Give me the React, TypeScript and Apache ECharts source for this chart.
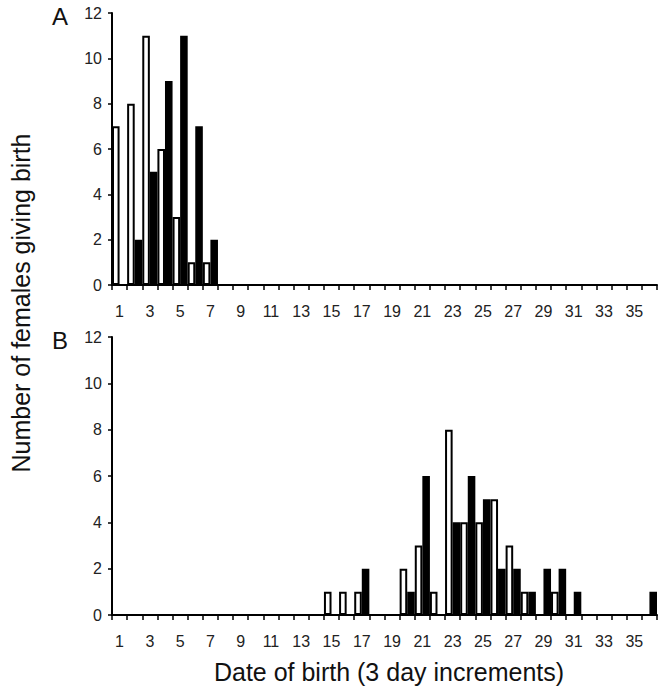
import React, { useEffect, useRef } from 'react';
import * as echarts from 'echarts';

// Date-of-birth bins (3 day increments)
const categories = [
  '1', '2', '3', '4', '5', '6', '7', '8', '9', '10', '11', '12',
  '13', '14', '15', '16', '17', '18', '19', '20', '21', '22', '23', '24',
  '25', '26', '27', '28', '29', '30', '31', '32', '33', '34', '35', '36',
];

// Panel A
const panelAOpen = [7, 8, 11, 6, 3, 1, 1, 0, 0, 0, 0, 0, 0, 0, 0, 0, 0, 0, 0, 0, 0, 0, 0, 0, 0, 0, 0, 0, 0, 0, 0, 0, 0, 0, 0, 0];
const panelAFilled = [0, 2, 5, 9, 11, 7, 2, 0, 0, 0, 0, 0, 0, 0, 0, 0, 0, 0, 0, 0, 0, 0, 0, 0, 0, 0, 0, 0, 0, 0, 0, 0, 0, 0, 0, 0];

// Panel B
const panelBOpen = [0, 0, 0, 0, 0, 0, 0, 0, 0, 0, 0, 0, 0, 0, 1, 1, 1, 0, 0, 2, 3, 1, 8, 4, 4, 5, 3, 1, 0, 1, 0, 0, 0, 0, 0, 0];
const panelBFilled = [0, 0, 0, 0, 0, 0, 0, 0, 0, 0, 0, 0, 0, 0, 0, 0, 2, 0, 0, 1, 6, 0, 4, 6, 5, 2, 2, 1, 2, 2, 1, 0, 0, 0, 0, 1];

const yMin = 0;
const yMax = 12;
const yStep = 2;

const panelLabels = ['A', 'B'];
const xTitle = 'Date of birth (3 day increments)';
const yTitle = 'Number of females giving birth';

const FONT = '"Liberation Sans", Arial, Helvetica, sans-serif';

export default function App() {
  const ref = useRef<HTMLDivElement>(null);

  useEffect(() => {
    if (!ref.current) return;
    const chart = echarts.init(ref.current, undefined, { renderer: 'svg' });

    const grids = [
      { left: 112, right: 7, top: 13, height: 272 },
      { left: 112, right: 7, top: 337, height: 278 },
    ];

    const xAxis = grids.map((_, i) => ({
      type: 'category',
      gridIndex: i,
      data: categories,
      boundaryGap: true,
      axisLine: { show: true, lineStyle: { color: '#000', width: 2 } },
      axisTick: { show: true, interval: 0, length: 5, lineStyle: { color: '#000', width: 1.5 } },
      axisLabel: { interval: 1, margin: 18, fontSize: 16, color: '#222', fontFamily: FONT },
      splitLine: { show: false },
    }));

    const yAxis = grids.map((_, i) => ({
      type: 'value',
      gridIndex: i,
      min: yMin,
      max: yMax,
      interval: yStep,
      axisLine: { show: true, lineStyle: { color: '#000', width: 2 } },
      axisTick: { show: true, length: 4, lineStyle: { color: '#000', width: 1.5 } },
      axisLabel: { margin: 10, fontSize: 16, color: '#222', fontFamily: FONT },
      splitLine: { show: false },
    }));

    const toData = (arr: number[]) => arr.map((v) => (v === 0 ? '-' : v));

    const mkSeries = (data: number[], idx: number, filled: boolean) => ({
      type: 'bar',
      xAxisIndex: idx,
      yAxisIndex: idx,
      data: toData(data),
      barGap: '0%',
      barCategoryGap: '0%',
      itemStyle: {
        color: filled ? '#000' : '#fff',
        borderColor: '#000',
        borderWidth: 2,
      },
      emphasis: { disabled: true },
    });

    const option = {
      animation: false,
      grid: grids,
      xAxis,
      yAxis,
      series: [
        mkSeries(panelAOpen, 0, false),
        mkSeries(panelAFilled, 0, true),
        mkSeries(panelBOpen, 1, false),
        mkSeries(panelBFilled, 1, true),
      ],
      graphic: [
        {
          type: 'text',
          x: 60,
          y: 16,
          style: { text: panelLabels[0], fontSize: 24, fontFamily: FONT, fill: '#111', textAlign: 'center', textVerticalAlign: 'middle', align: 'center', verticalAlign: 'middle' },
        },
        {
          type: 'text',
          x: 60,
          y: 340,
          style: { text: panelLabels[1], fontSize: 24, fontFamily: FONT, fill: '#111', textAlign: 'center', textVerticalAlign: 'middle', align: 'center', verticalAlign: 'middle' },
        },
        {
          type: 'text',
          x: 389,
          y: 672,
          style: { text: xTitle, fontSize: 25, fontFamily: FONT, fill: '#111', textAlign: 'center', textVerticalAlign: 'middle', align: 'center', verticalAlign: 'middle' },
        },
        {
          type: 'text',
          x: 21,
          y: 303,
          rotation: Math.PI / 2,
          style: { text: yTitle, fontSize: 25, fontFamily: FONT, fill: '#111', textAlign: 'center', textVerticalAlign: 'middle', align: 'center', verticalAlign: 'middle' },
        },
      ],
    };

    chart.setOption(option as any);
    return () => chart.dispose();
  }, []);

  return (
    <div
      ref={ref}
      style={{ position: 'fixed', left: 0, top: 0, width: 664, height: 694, background: '#fff' }}
    />
  );
}
